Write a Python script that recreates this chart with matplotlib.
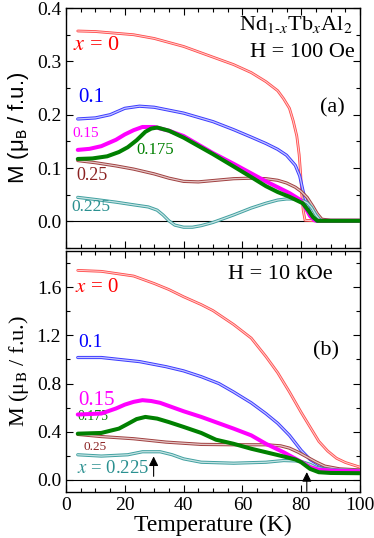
#!/usr/bin/env python3
"""Nd1-xTbxAl2 magnetization vs temperature at 100 Oe and 10 kOe."""

import matplotlib

matplotlib.use("Agg")
import matplotlib.pyplot as plt
from matplotlib.colors import to_rgb
from matplotlib.ticker import FormatStrFormatter, MultipleLocator

plt.rcParams["font.family"] = ["Liberation Serif", "DejaVu Serif"]
plt.rcParams["mathtext.fontset"] = "stix"

# ---- H = 100 Oe (panel a) ----
T_a_x0 = [4, 10, 23, 30, 40, 50, 57, 63, 68, 72, 74, 76, 77.3, 78.5, 79.3, 79.8, 80.2, 80.7, 81.3, 85, 90, 95, 100]
M_a_x0 = [0.357, 0.356, 0.350, 0.343, 0.328, 0.308, 0.294, 0.279, 0.262, 0.245, 0.230, 0.212, 0.188, 0.160,
          0.125, 0.090, 0.050, 0.020, 0.002, 0.001, 0.001, 0.001, 0.001]
T_a_x10 = [4, 10, 15, 20, 25, 30, 40, 50, 57, 63, 68, 72, 75, 78, 79.5, 80.7, 82, 83, 84, 85, 90, 100]
M_a_x10 = [0.192, 0.194, 0.200, 0.212, 0.216, 0.214, 0.203, 0.187, 0.172, 0.158, 0.146, 0.135, 0.124, 0.105,
           0.085, 0.055, 0.032, 0.016, 0.006, 0.001, 0.001, 0.001]
T_a_x15 = [4, 8, 12, 17, 20, 23, 26, 30, 35, 40, 50, 57, 63, 68, 72, 76, 79.5, 81, 83, 84.5, 86, 90, 100]
M_a_x15 = [0.134, 0.136, 0.141, 0.153, 0.163, 0.171, 0.177, 0.177, 0.170, 0.160, 0.128, 0.108, 0.090, 0.075,
           0.064, 0.053, 0.041, 0.030, 0.010, 0.002, 0.001, 0.001, 0.001]
T_a_x175 = [4, 9, 14, 18, 21, 24, 27, 29, 31, 35, 40, 50, 57, 63, 68, 72, 76, 80.5, 82.5, 84, 85.5, 90, 100]
M_a_x175 = [0.117, 0.118, 0.122, 0.130, 0.139, 0.152, 0.168, 0.174, 0.176, 0.170, 0.157, 0.126, 0.103, 0.083,
            0.066, 0.055, 0.046, 0.034, 0.020, 0.008, 0.001, 0.001, 0.001]
T_a_x25 = [4, 10, 17, 23, 30, 35, 40, 45, 51, 57, 63, 68, 72, 75, 78, 80, 82, 84, 85.5, 87, 90, 100]
M_a_x25 = [0.114, 0.110, 0.104, 0.098, 0.089, 0.081, 0.075, 0.074, 0.077, 0.080, 0.081, 0.080, 0.077, 0.072,
           0.064, 0.056, 0.045, 0.028, 0.014, 0.004, 0.002, 0.002]
T_a_x225 = [4, 10, 17, 23, 28, 31, 33, 35, 37, 40, 43, 46, 50, 57, 63, 68, 72, 75, 78, 80, 82, 83.5, 85, 86.5,
            90, 100]
M_a_x225 = [0.045, 0.041, 0.036, 0.031, 0.027, 0.021, 0.012, 0.001, -0.007, -0.011, -0.011, -0.008, -0.002,
            0.012, 0.025, 0.034, 0.040, 0.042, 0.042, 0.040, 0.035, 0.026, 0.012, 0.002, 0.0, 0.0]

# ---- H = 10 kOe (panel b) ----
T_b_x0 = [4, 12, 23, 30, 35, 40, 46, 50, 57, 63, 68, 72, 76, 80, 83, 86, 89, 92, 95, 100]
M_b_x0 = [1.739, 1.731, 1.692, 1.63, 1.58, 1.52, 1.455, 1.405, 1.29, 1.177, 1.024, 0.89, 0.73, 0.56, 0.44,
          0.32, 0.24, 0.18, 0.145, 0.106]
T_b_x10 = [4, 12, 25, 34, 40, 46, 52, 57, 63, 68, 72, 76, 80, 83, 86, 90, 95, 100]
M_b_x10 = [1.016, 1.016, 0.982, 0.94, 0.905, 0.857, 0.80, 0.73, 0.64, 0.55, 0.47, 0.37, 0.245, 0.17, 0.125,
           0.095, 0.08, 0.072]
T_b_x15 = [4, 12, 17, 20, 23, 26, 29, 32, 40, 46, 57, 63, 68, 74, 77, 80, 83, 86, 90, 100]
M_b_x15 = [0.543, 0.551, 0.593, 0.625, 0.648, 0.662, 0.655, 0.64, 0.57, 0.523, 0.426, 0.37, 0.30, 0.23, 0.19,
           0.15, 0.106, 0.085, 0.078, 0.072]
T_b_x175 = [4, 12, 18, 21, 24, 27, 31, 35, 40, 46, 51, 57, 63, 68, 74, 78, 80, 83, 86, 90, 100]
M_b_x175 = [0.384, 0.39, 0.426, 0.465, 0.505, 0.523, 0.509, 0.48, 0.44, 0.39, 0.334, 0.30, 0.259, 0.23, 0.195,
            0.17, 0.147, 0.092, 0.064, 0.058, 0.056]
T_b_x25 = [4, 12, 23, 34, 46, 57, 68, 73, 76, 79, 82, 85, 88, 93, 100]
M_b_x25 = [0.378, 0.36, 0.342, 0.314, 0.295, 0.292, 0.292, 0.283, 0.264, 0.23, 0.19, 0.15, 0.115, 0.092, 0.083]
T_b_x225 = [4, 12, 21, 26, 32, 36, 40, 46, 57, 68, 74, 78, 80, 83, 85, 88, 93, 100]
M_b_x225 = [0.209, 0.198, 0.209, 0.234, 0.234, 0.21, 0.175, 0.147, 0.139, 0.147, 0.161, 0.158, 0.153, 0.13,
            0.106, 0.09, 0.083, 0.078]

# arrows in panel (b): (T, tail M, tip M)
ARROWS_B = [(29.8, 0.03, 0.195), (81.9, -0.095, 0.065)]

RED = "#ff4a4a"
BLUE = "#3a3aff"
MAGENTA = "#ff00ff"
GREEN = "#008000"
BROWN = "#a04040"
TEAL = "#40a0a0"


def tint(color, amount=0.7):
    r, g, b = to_rgb(color)
    return (r + (1 - r) * amount, g + (1 - g) * amount, b + (1 - b) * amount)


def hollow(ax, T, M, color, lw=2.3):
    # dense open symbols read as a band with a pale core
    ax.plot(T, M, color=color, lw=lw, solid_capstyle="round", zorder=3)
    ax.plot(T, M, color=tint(color), lw=lw * 0.4, zorder=3)


def solid(ax, T, M, color, lw=2.9):
    ax.plot(T, M, color=color, lw=lw, solid_capstyle="round", zorder=4)


def style_axes(ax, ymajor, yminor):
    ax.set_xlim(0, 100)
    ax.xaxis.set_major_locator(MultipleLocator(20))
    ax.xaxis.set_minor_locator(MultipleLocator(5))
    ax.yaxis.set_major_locator(MultipleLocator(ymajor))
    ax.yaxis.set_minor_locator(MultipleLocator(yminor))
    ax.yaxis.set_major_formatter(FormatStrFormatter("%.1f"))
    ax.tick_params(which="both", direction="in", top=True, right=True, labelsize=14, width=0.8)
    ax.tick_params(which="major", length=5)
    ax.tick_params(which="minor", length=3)
    for lab in ax.get_xticklabels() + ax.get_yticklabels():
        lab.set_fontfamily("Liberation Serif")
    ax.axhline(0, color="black", lw=0.8, zorder=2)
    for sp in ax.spines.values():
        sp.set_linewidth(1.0)


def main():
    fig = plt.figure(figsize=(3.74, 5.38), dpi=100)
    ax_a = fig.add_axes([0.1765, 0.539, 0.7861, 0.446])
    ax_b = fig.add_axes([0.1765, 0.0855, 0.7861, 0.448])

    # panel (a)
    hollow(ax_a, T_a_x0, M_a_x0, RED, lw=2.0)
    hollow(ax_a, T_a_x10, M_a_x10, BLUE)
    hollow(ax_a, T_a_x25, M_a_x25, BROWN)
    hollow(ax_a, T_a_x225, M_a_x225, TEAL)
    solid(ax_a, T_a_x15, M_a_x15, MAGENTA)
    solid(ax_a, T_a_x175, M_a_x175, GREEN)
    ax_a.set_ylim(-0.05, 0.4)
    style_axes(ax_a, 0.1, 0.05)
    ax_a.tick_params(labelbottom=False)
    ax_a.set_ylabel(r"M (μ$_{\mathrm{B}}$ / f.u.)", fontfamily="Liberation Sans", math_fontfamily="stixsans",
                    fontsize=16, labelpad=4)

    ax_a.text(97.5, 0.388, r"Nd$_{1\text{-}x}$Tb$_x$Al$_2$", ha="right", va="top", fontsize=16)
    ax_a.text(98.3, 0.308, "H = 100 Oe", ha="right", va="baseline", fontsize=16)
    ax_a.text(90.7, 0.213, "(a)", ha="center", va="center", fontsize=16)
    ax_a.text(2.5, 0.329, "$x$ = 0", color="red", ha="left", va="center", fontsize=16)
    ax_a.text(4.2, 0.233, "0.1", color="blue", ha="left", va="center", fontsize=15)
    ax_a.text(2.0, 0.164, "0.15", color=MAGENTA, ha="left", va="center", fontsize=11)
    ax_a.text(24.0, 0.133, "0.175", color=GREEN, ha="left", va="center", fontsize=12)
    ax_a.text(3.5, 0.086, "0.25", color="#8b2222", ha="left", va="center", fontsize=13)
    ax_a.text(1.8, 0.026, "0.225", color="#2a9090", ha="left", va="center", fontsize=12.5)

    # panel (b)
    hollow(ax_b, T_b_x0, M_b_x0, RED, lw=2.0)
    hollow(ax_b, T_b_x10, M_b_x10, BLUE)
    hollow(ax_b, T_b_x25, M_b_x25, BROWN)
    hollow(ax_b, T_b_x225, M_b_x225, TEAL)
    solid(ax_b, T_b_x15, M_b_x15, MAGENTA)
    solid(ax_b, T_b_x175, M_b_x175, GREEN)
    ax_b.set_ylim(-0.1, 1.9)
    style_axes(ax_b, 0.4, 0.2)
    ax_b.set_xlabel("Temperature (K)", fontsize=17, labelpad=1)
    ax_b.set_ylabel(r"M (μ$_{\mathrm{B}}$ / f.u.)", fontsize=16, labelpad=4)

    ax_b.text(90.8, 1.664, "H = 10 kOe", ha="right", va="baseline", fontsize=16)
    ax_b.text(88.6, 1.07, "(b)", ha="center", va="center", fontsize=16)
    ax_b.text(3.2, 1.593, "$x$ = 0", color="red", ha="left", va="center", fontsize=15)
    ax_b.text(4.0, 1.141, "0.1", color="blue", ha="left", va="center", fontsize=14)
    ax_b.text(4.0, 0.66, "0.15", color=MAGENTA, ha="left", va="center", fontsize=15)
    ax_b.text(4.0, 0.527, "0.175", color=GREEN, ha="left", va="center", fontsize=10)
    ax_b.text(6.0, 0.276, "0.25", color="#8b2222", ha="left", va="center", fontsize=9.5)
    ax_b.text(3.8, 0.092, "$x$ = 0.225", color="#2a9090", ha="left", va="center", fontsize=13.5)

    for t, tail, tip in ARROWS_B:
        ax_b.annotate("", xy=(t, tip), xytext=(t, tail),
                      arrowprops=dict(arrowstyle="-|>", color="black", lw=0.8, mutation_scale=14,
                                      shrinkA=0, shrinkB=0), zorder=6)

    fig.align_ylabels([ax_a, ax_b])
    fig.savefig("out.png", dpi=100)
    plt.close(fig)


if __name__ == "__main__":
    main()
